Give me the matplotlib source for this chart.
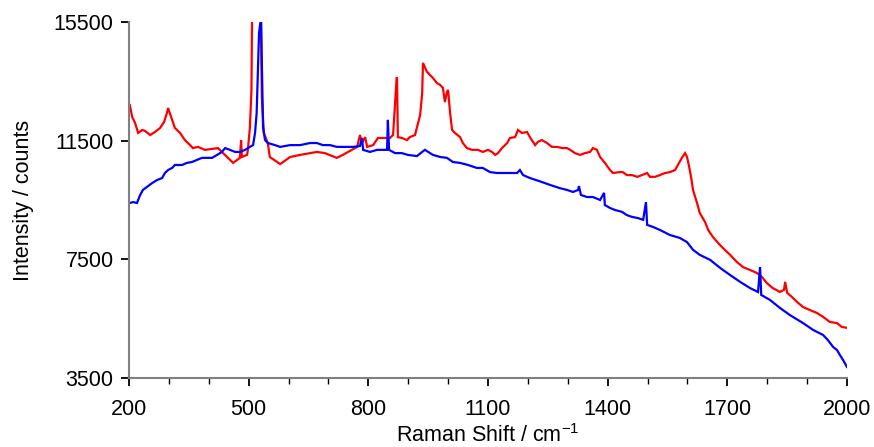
import matplotlib
matplotlib.use("Agg")
import matplotlib.pyplot as plt
from matplotlib.ticker import MultipleLocator

plt.rcParams['font.family'] = ['Liberation Sans', 'DejaVu Sans']
plt.rcParams['mathtext.default'] = 'regular'

# Red spectrum (Raman shift cm-1, intensity counts)
red_x = [202, 208, 215, 223, 233, 240, 253, 265, 278, 288, 295, 298, 308, 315, 328, 340,
         353, 360, 373, 390, 408, 423, 433, 441, 448, 461, 471, 478, 481, 483, 496, 498,
         503, 507, 509, 520, 530, 533, 538, 548, 553, 579, 604, 629, 654, 671, 691, 721,
         736, 759, 772, 779, 784, 792, 797, 812, 824, 842, 854, 862, 871, 872, 874, 884,
         897, 904, 917, 925, 930, 935, 937, 947, 955, 962, 972, 980, 987, 992, 997, 1000,
         1005, 1010, 1017, 1030, 1037, 1047, 1060, 1075, 1087, 1100, 1110, 1118, 1125, 1135,
         1148, 1155, 1168, 1175, 1185, 1198, 1205, 1218, 1225, 1235, 1248, 1260, 1273, 1286,
         1298, 1306, 1318, 1331, 1343, 1356, 1363, 1373, 1381, 1393, 1406, 1413, 1431, 1438,
         1448, 1461, 1474, 1486, 1499, 1506, 1519, 1531, 1544, 1556, 1569, 1576, 1586, 1594,
         1599, 1606, 1611, 1614, 1624, 1631, 1644, 1652, 1664, 1677, 1689, 1707, 1724, 1739,
         1757, 1774, 1787, 1799, 1814, 1832, 1842, 1845, 1850, 1862, 1875, 1890, 1907, 1925,
         1940, 1957, 1975, 1987, 2000]
red_y = [12700, 12300, 12100, 11760, 11860, 11830, 11690, 11790, 11930, 12130, 12430, 12600,
         12200, 11930, 11760, 11520, 11350, 11250, 11290, 11190, 11220, 11250, 11120, 11020,
         10920, 10750, 10850, 10920, 11520, 10950, 11020, 11190, 11930, 13210, 16500, 16500,
         16500, 12970, 11760, 11420, 10950, 10710, 10950, 11020, 11080, 11120, 11080, 10920,
         11020, 11190, 11290, 11690, 11420, 11620, 11290, 11350, 11590, 11590, 11590, 11690,
         13610, 13610, 11620, 11590, 11520, 11620, 11690, 12100, 12370, 13110, 14120, 13820,
         13710, 13610, 13440, 13380, 13280, 12800, 13140, 13210, 12430, 11860, 11760, 11620,
         11420, 11250, 11190, 11190, 11120, 11190, 11120, 11020, 11080, 11250, 11420, 11590,
         11620, 11860, 11760, 11790, 11620, 11350, 11460, 11520, 11420, 11290, 11290, 11250,
         11250, 11190, 11080, 11020, 11080, 11120, 11250, 11190, 10950, 10750, 10510, 10410,
         10440, 10440, 10340, 10340, 10280, 10340, 10410, 10280, 10280, 10340, 10410, 10440,
         10510, 10680, 10920, 11080, 10950, 10510, 10110, 9840, 9400, 9060, 8760, 8490, 8250,
         8050, 7880, 7650, 7410, 7240, 7140, 7040, 6900, 6700, 6530, 6400, 6470, 6740, 6370,
         6230, 6060, 5890, 5790, 5690, 5560, 5390, 5350, 5220, 5190]

# Blue spectrum
blue_x = [203, 210, 220, 228, 235, 245, 258, 270, 283, 290, 298, 308, 315, 333, 345, 358,
          370, 383, 396, 408, 421, 433, 441, 453, 466, 478, 491, 503, 511, 516, 520, 526,
          531, 536, 541, 548, 566, 579, 604, 629, 654, 671, 686, 704, 721, 747, 762, 779,
          784, 787, 804, 822, 837, 847, 849, 852, 867, 884, 899, 922, 935, 942, 950, 962,
          980, 997, 1012, 1030, 1050, 1072, 1087, 1105, 1123, 1138, 1155, 1173, 1180, 1188,
          1205, 1230, 1255, 1280, 1298, 1313, 1326, 1328, 1333, 1348, 1363, 1381, 1391, 1393,
          1406, 1419, 1436, 1448, 1461, 1476, 1489, 1496, 1499, 1514, 1531, 1556, 1581, 1599,
          1614, 1631, 1657, 1682, 1707, 1732, 1757, 1777, 1782, 1785, 1807, 1832, 1857, 1890,
          1915, 1940, 1952, 1965, 1975, 1982, 1990, 2000]
blue_y = [9400, 9430, 9400, 9670, 9840, 9940, 10070, 10170, 10240, 10410, 10510, 10580,
          10680, 10680, 10750, 10780, 10850, 10920, 10920, 10920, 11020, 11120, 11250, 11190,
          11120, 11120, 11190, 11290, 11350, 11760, 12430, 15130, 15640, 11960, 11520, 11420,
          11350, 11290, 11350, 11350, 11420, 11420, 11350, 11350, 11290, 11290, 11290, 11320,
          11590, 11190, 11120, 11190, 11190, 11190, 12200, 11190, 11080, 11080, 11020, 10980,
          11120, 11190, 11120, 11020, 10950, 10920, 10780, 10750, 10680, 10580, 10580, 10440,
          10410, 10410, 10410, 10410, 10510, 10340, 10240, 10130, 10010, 9900, 9840, 9770,
          9840, 9970, 9670, 9600, 9600, 9500, 9740, 9330, 9230, 9160, 9100, 8990, 8930, 8890,
          8830, 9430, 8660, 8590, 8490, 8320, 8220, 8080, 7820, 7650, 7480, 7210, 6970, 6740,
          6530, 6400, 7240, 6300, 6130, 5860, 5620, 5350, 5120, 4950, 4780, 4550, 4440, 4280,
          4110, 3870]

x_major = [200, 500, 800, 1100, 1400, 1700, 2000]
y_major = [3500, 7500, 11500, 15500]

fig = plt.figure(figsize=(8.74, 4.47), dpi=100)
ax = fig.add_axes([0.1476, 0.1544, 0.8215, 0.7964])

ax.plot(red_x, red_y, color='#ff0000', lw=1.6, solid_joinstyle='miter')
ax.plot(blue_x, blue_y, color='#0000ff', lw=1.6, solid_joinstyle='miter')

ax.set_xlim(200, 2000)
ax.set_ylim(3500, 15500)
ax.set_xticks(x_major)
ax.set_yticks(y_major)
ax.xaxis.set_minor_locator(MultipleLocator(100))

for s in ['top', 'right']:
    ax.spines[s].set_visible(False)
for s in ['left', 'bottom']:
    ax.spines[s].set_color('#808080')
    ax.spines[s].set_linewidth(1.5)

ax.tick_params(axis='both', which='major', direction='out', length=6, width=1.3,
               color='black', labelsize=15.5)
ax.tick_params(axis='x', which='major', pad=9)
ax.tick_params(axis='y', which='major', pad=5)
ax.tick_params(axis='x', which='minor', direction='out', length=4, width=1.0, color='black')

ax.set_xlabel('Raman Shift / cm$^{-1}$', fontsize=15.5, labelpad=3)
ax.set_ylabel('Intensity / counts', fontsize=15.5, labelpad=14)

fig.savefig('out.png', dpi=100)
